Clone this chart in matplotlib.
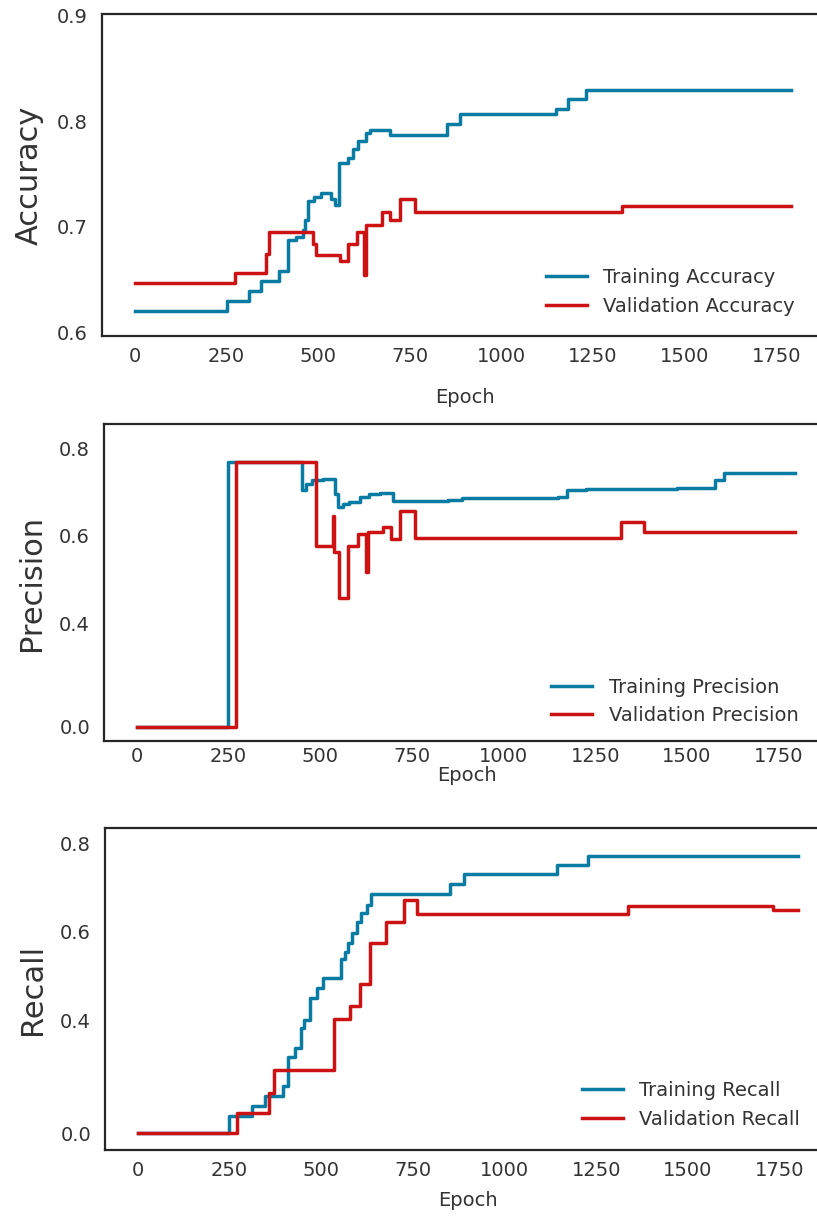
import numpy as np
import matplotlib
matplotlib.use("Agg")
import matplotlib.pyplot as plt

# ---------------- data (change points, step-post) ----------------
acc_train_ep = [0, 252, 312, 344, 394, 417, 440, 458, 465, 472, 490, 509, 536, 546, 557, 582,
                596, 610, 632, 642, 697, 852, 888, 1150, 1181, 1232, 1790]
acc_train = [0.620, 0.6295, 0.639, 0.6485, 0.658, 0.687, 0.690, 0.697, 0.706, 0.724, 0.728,
             0.732, 0.726, 0.721, 0.760, 0.765, 0.774, 0.781, 0.789, 0.792, 0.787, 0.797,
             0.8066, 0.8114, 0.821, 0.830, 0.830]

acc_val_ep = [0, 273, 359, 367, 486, 495, 559, 582, 605, 626, 630, 674, 697, 724, 765, 1328, 1790]
acc_val = [0.647, 0.656, 0.674, 0.695, 0.684, 0.673, 0.667, 0.684, 0.695, 0.654, 0.702,
           0.714, 0.706, 0.726, 0.714, 0.720, 0.720]

prec_train_ep = [0, 249, 451, 460, 478, 506, 529, 541, 547, 561, 579, 607, 634, 662, 697,
                 849, 887, 1148, 1174, 1225, 1474, 1576, 1601, 1795]
prec_train = [0.0, 0.769, 0.703, 0.718, 0.726, 0.730, 0.729, 0.695, 0.665, 0.672, 0.677,
              0.689, 0.695, 0.697, 0.680, 0.682, 0.685, 0.687, 0.703, 0.707, 0.709, 0.728,
              0.743, 0.743]

prec_val_ep = [0, 269, 488, 534, 538, 551, 575, 602, 625, 630, 671, 692, 717, 758, 1321, 1384, 1795]
prec_val = [0.0, 0.769, 0.577, 0.644, 0.562, 0.458, 0.577, 0.604, 0.516, 0.6075, 0.619,
            0.5925, 0.656, 0.594, 0.630, 0.609, 0.609]

rec_train_ep = [0, 248, 312, 346, 395, 409, 427, 445, 454, 468, 487, 505, 554, 565, 572, 583,
                597, 609, 625, 636, 850, 889, 1144, 1227, 1800]
rec_train = [0.0, 0.061, 0.096, 0.132, 0.167, 0.268, 0.300, 0.371, 0.40, 0.449, 0.472, 0.495,
             0.538, 0.555, 0.575, 0.598, 0.621, 0.643, 0.660, 0.685, 0.708, 0.730, 0.750,
             0.771, 0.771]

rec_val_ep = [0, 269, 358, 370, 535, 578, 606, 634, 677, 726, 762, 1336, 1732, 1800]
rec_val = [0.0, 0.0706, 0.141, 0.2235, 0.4016, 0.431, 0.4815, 0.574, 0.623, 0.672, 0.640,
           0.659, 0.650, 0.650]

x_ticks = [0, 250, 500, 750, 1000, 1250, 1500, 1750]
acc_ticks = [0.6, 0.7, 0.8, 0.9]
pr_ticks = [0.0, 0.4, 0.6, 0.8]

# ---------------- style ----------------
BLUE = "#0a7ba2"
RED = "#cc1212"
TXT = "#333333"
plt.rcParams["font.family"] = ["DejaVu Sans"]
plt.rcParams["text.color"] = TXT
plt.rcParams["axes.labelcolor"] = TXT
plt.rcParams["xtick.color"] = TXT
plt.rcParams["ytick.color"] = TXT

W, H = 817, 1216
fig = plt.figure(figsize=(W / 100, H / 100), dpi=100)
fig.patch.set_facecolor("white")
XL, XR = -90, 1890

def px_axes(left, top, bottom, width=726):
    return fig.add_axes([left / W, 1 - bottom / H, width / W, (bottom - top) / H])

def piecewise(k):
    def fwd(v):
        v = np.asarray(v, dtype=float)
        return np.where(v >= 0.4, v, 0.4 - (0.4 - v) * k)
    def inv(t):
        t = np.asarray(t, dtype=float)
        return np.where(t >= 0.4, t, 0.4 - (0.4 - t) / k)
    return fwd, inv

panels = [
    dict(pos=(101.7, 14, 336), ylabel="Accuracy", ylim=(0.5963, 0.9018), yticks=acc_ticks,
         ytl=["0.6", "0.7", "0.8", "0.9"], k=None,
         tr=(acc_train_ep, acc_train), va=(acc_val_ep, acc_val),
         names=("Training Accuracy", "Validation Accuracy"),
         leg=(0.588, 0.137), xpad=8, labelpad=16, ylx=-0.08),
    dict(pos=(104, 424, 741), ylabel="Precision", ylim=(-0.054, 0.855), yticks=pr_ticks,
         ytl=["0.0", "0.4", "0.6", "0.8"], k=0.594,
         tr=(prec_train_ep, prec_train), va=(prec_val_ep, prec_val),
         names=("Training Precision", "Validation Precision"),
         leg=(0.592, 0.125), xpad=4, labelpad=0, ylx=-0.08),
    dict(pos=(105, 828.3, 1150), ylabel="Recall", ylim=(-0.059, 0.834), yticks=pr_ticks,
         ytl=["0.0", "0.4", "0.6", "0.8"], k=0.641,
         tr=(rec_train_ep, rec_train), va=(rec_val_ep, rec_val),
         names=("Training Recall", "Validation Recall"),
         leg=(0.633, 0.140), xpad=8, labelpad=8, ylx=-0.08),
]

for p in panels:
    ax = px_axes(*p["pos"])
    if p["k"] is not None:
        f, i = piecewise(p["k"])
        ax.set_yscale("function", functions=(f, i))
    ax.plot(p["tr"][0], p["tr"][1], drawstyle="steps-post", color=BLUE, lw=2.5,
            label=p["names"][0])
    ax.plot(p["va"][0], p["va"][1], drawstyle="steps-post", color=RED, lw=2.5,
            label=p["names"][1])
    ax.set_xlim(XL, XR)
    ax.set_ylim(*p["ylim"])
    ax.set_xticks(x_ticks)
    ax.set_yticks(p["yticks"])
    ax.set_yticklabels(p["ytl"])
    ax.yaxis.set_minor_locator(matplotlib.ticker.NullLocator())
    ax.tick_params(axis="both", length=0, labelsize=14)
    ax.tick_params(axis="y", pad=10)
    ax.tick_params(axis="x", pad=p["xpad"])
    for s in ax.spines.values():
        s.set_linewidth(1.6)
        s.set_color("#262626")
    ax.spines["right"].set_visible(False)
    ax.set_xlabel("Epoch", fontsize=14, labelpad=p["labelpad"])
    ax.set_ylabel(p["ylabel"], fontsize=22)
    ax.yaxis.set_label_coords(p["ylx"], 0.5)
    ax.legend(loc="center left", bbox_to_anchor=p["leg"], frameon=False, fontsize=14,
              handlelength=2.1, handletextpad=0.85, labelspacing=0.5)

fig.savefig("out.png", dpi=100, facecolor="white")
